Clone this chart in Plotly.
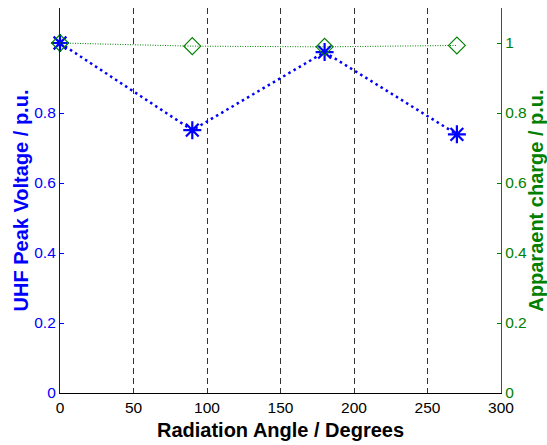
import plotly.graph_objects as go

angles = [0, 90, 180, 270]
uhf_peak = [1.0, 0.751, 0.974, 0.739]
app_charge = [1.0, 0.991, 0.989, 0.993]
x_ticks = [0, 50, 100, 150, 200, 250, 300]
left_ticks = [0, 0.2, 0.4, 0.6, 0.8]
right_ticks = [0, 0.2, 0.4, 0.6, 0.8, 1]

BLUE = "#0000FF"
GREEN = "#008000"
FONT = "Liberation Sans, Arial, Helvetica, sans-serif"

fig = go.Figure()
fig.add_trace(go.Scatter(
    x=angles, y=app_charge, yaxis="y2", mode="lines+markers",
    line=dict(color=GREEN, width=1, dash="1px,1.5px"),
    marker=dict(symbol="diamond-open", size=13, color=GREEN, line=dict(width=1.2, color=GREEN)),
    cliponaxis=False, showlegend=False,
))
fig.add_trace(go.Scatter(
    x=angles, y=uhf_peak, mode="lines+markers",
    line=dict(color=BLUE, width=2.5, dash="2.5px,3.5px"),
    marker=dict(symbol="asterisk-open", size=15, color=BLUE, line=dict(width=2.2, color=BLUE)),
    cliponaxis=False, showlegend=False,
))

fig.update_layout(
    width=547, height=445,
    margin=dict(l=60, r=46, t=8, b=52, autoexpand=False),
    plot_bgcolor="white", paper_bgcolor="white",
    font=dict(family=FONT, size=15.5, color="black"),
    xaxis=dict(
        range=[0, 300], tickvals=x_ticks, showgrid=True, automargin=False,
        gridcolor="#333333", gridwidth=1, griddash="6px,4px",
        showline=True, linecolor="black", linewidth=1.2,
        ticks="", zeroline=False, tickfont=dict(size=15.5, color="black"),
        title=dict(text="<b>Radiation Angle / Degrees</b>", font=dict(size=20, color="black"), standoff=8),
    ),
    yaxis=dict(
        range=[0, 1.1], tickvals=left_ticks, ticktext=["0", "0.2", "0.4", "0.6", "0.8"],
        showgrid=False, zeroline=False, automargin=False,
        showline=True, linecolor=BLUE, linewidth=1.2,
        ticks="inside", ticklen=4, tickcolor=BLUE,
        tickfont=dict(size=15.5, color=BLUE),
        title=dict(text="<b>UHF Peak Voltage / p.u.</b>", font=dict(size=20, color=BLUE), standoff=0),
    ),
    yaxis2=dict(
        range=[0, 1.1], tickvals=right_ticks, ticktext=["0", "0.2", "0.4", "0.6", "0.8", "1"],
        overlaying="y", side="right", anchor="x", automargin=False,
        showgrid=False, zeroline=False,
        showline=True, linecolor=GREEN, linewidth=1.2,
        ticks="inside", ticklen=4, tickcolor=GREEN,
        tickfont=dict(size=15.5, color=GREEN),
        title=dict(text="<b>Apparaent charge / p.u.</b>", font=dict(size=20, color=GREEN), standoff=6),
    ),
)

fig.write_html(
    "out.html",
    config={"displayModeBar": False},
    post_script="document.body.style.margin='0';document.body.style.overflow='hidden';",
)
